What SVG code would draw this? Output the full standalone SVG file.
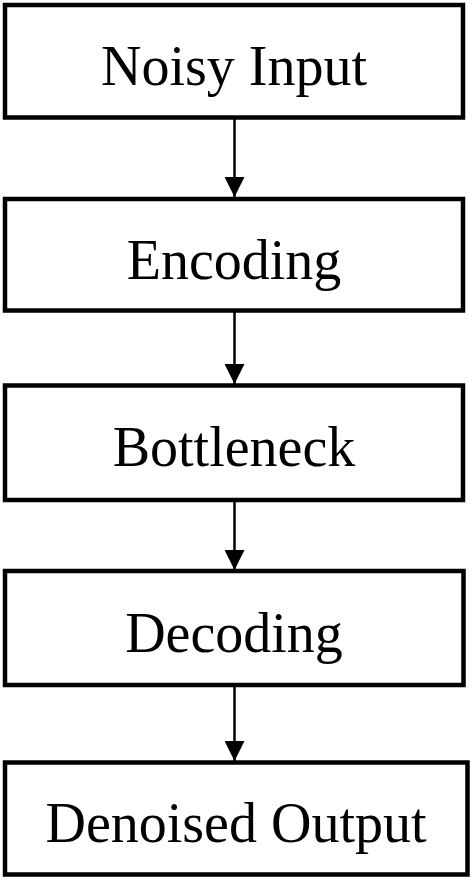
<svg xmlns="http://www.w3.org/2000/svg" width="473" height="881" viewBox="0 0 473 881">
<defs>
<style>
.box{fill:#fff;stroke:#000;stroke-width:4.5}
.lbl{font-family:"Liberation Serif","Times New Roman",serif;font-size:56px;fill:#000;text-anchor:middle}
.conn{stroke:#000;stroke-width:2.5;fill:none}
</style>
<marker id="ah" markerUnits="userSpaceOnUse" markerWidth="20" markerHeight="20" viewBox="0 0 20 20" refX="20" refY="10" orient="auto">
<path d="M0,0 L20,10 L0,20 Z" fill="#000"/>
</marker>
</defs>
<rect width="473" height="881" fill="#fff"/>
<g id="connectors">
<line class="conn" x1="234.5" y1="119" x2="234.5" y2="197" marker-end="url(#ah)"/>
<line class="conn" x1="234.5" y1="312" x2="234.5" y2="384" marker-end="url(#ah)"/>
<line class="conn" x1="234.5" y1="502" x2="234.5" y2="570" marker-end="url(#ah)"/>
<line class="conn" x1="234.5" y1="687" x2="234.5" y2="761" marker-end="url(#ah)"/>
</g>
<g id="noisy-input">
<rect class="box" x="5" y="5" width="458" height="112.5"/>
<text class="lbl" x="234" y="85">Noisy Input</text>
</g>
<g id="encoding">
<rect class="box" x="5" y="199" width="458" height="111.5"/>
<text class="lbl" x="234" y="279">Encoding</text>
</g>
<g id="bottleneck">
<rect class="box" x="5" y="385.5" width="458" height="114.5"/>
<text class="lbl" x="234" y="466">Bottleneck</text>
</g>
<g id="decoding">
<rect class="box" x="5" y="571" width="458.5" height="114"/>
<text class="lbl" x="234" y="652">Decoding</text>
</g>
<g id="denoised-output">
<rect class="box" x="5" y="762.5" width="462.5" height="112"/>
<text class="lbl" x="236" y="842">Denoised Output</text>
</g>
</svg>
